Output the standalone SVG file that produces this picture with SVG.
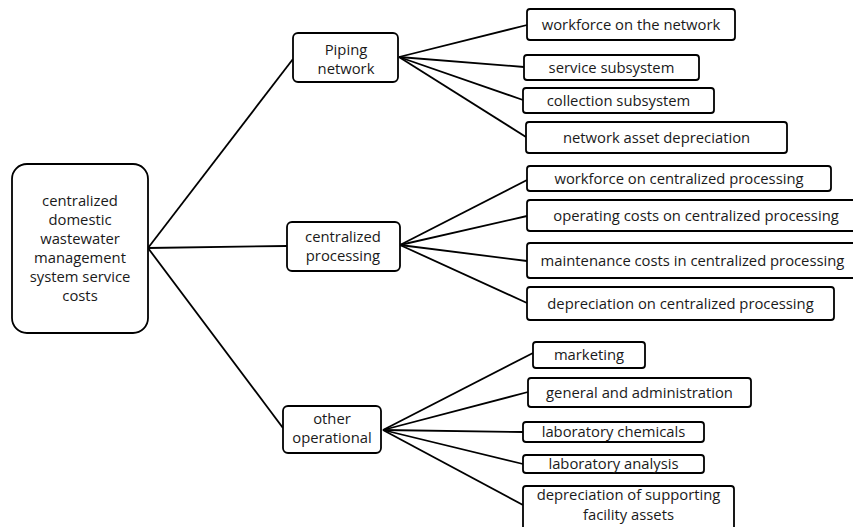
<svg xmlns="http://www.w3.org/2000/svg" width="853" height="527" viewBox="0 0 853 527">
<style>
.box{fill:#fff;stroke:#000;stroke-width:1.8}
.ln{stroke:#000;stroke-width:1.8;fill:none}
text{font-family:"Open Sans","Liberation Sans",Arial,sans-serif;font-size:14.8px;fill:#1a1a1a;text-anchor:middle}
</style>
<rect width="853" height="527" fill="#fff"/>
<g id="connectors">
<line class="ln" x1="148" y1="248" x2="293" y2="59"/>
<line class="ln" x1="148" y1="248" x2="287" y2="246"/>
<line class="ln" x1="148" y1="248" x2="283" y2="428"/>
<line class="ln" x1="399" y1="57" x2="527" y2="25"/>
<line class="ln" x1="399" y1="57" x2="524" y2="67"/>
<line class="ln" x1="399" y1="57" x2="523" y2="100"/>
<line class="ln" x1="399" y1="57" x2="526" y2="137"/>
<line class="ln" x1="400" y1="245" x2="527" y2="180"/>
<line class="ln" x1="400" y1="245" x2="527" y2="216"/>
<line class="ln" x1="400" y1="245" x2="527" y2="261"/>
<line class="ln" x1="400" y1="245" x2="527" y2="303"/>
<line class="ln" x1="383" y1="430" x2="533" y2="353"/>
<line class="ln" x1="383" y1="430" x2="528" y2="392"/>
<line class="ln" x1="383" y1="430" x2="523" y2="432"/>
<line class="ln" x1="383" y1="430" x2="523" y2="464"/>
<line class="ln" x1="383" y1="430" x2="523" y2="505"/>
</g>
<g id="root">
<rect class="box" x="12" y="164" width="136" height="169" rx="15"/>
<text x="80" y="206">centralized</text>
<text x="80" y="225">domestic</text>
<text x="80" y="244">wastewater</text>
<text x="80" y="263">management</text>
<text x="80" y="282">system service</text>
<text x="80" y="301">costs</text>
</g>
<g id="piping">
<rect class="box" x="293" y="33" width="105" height="49" rx="5"/>
<text x="346" y="55">Piping</text>
<text x="346" y="74">network</text>
</g>
<g id="processing">
<rect class="box" x="287" y="222" width="113" height="49" rx="5"/>
<text x="343" y="242">centralized</text>
<text x="343" y="261">processing</text>
</g>
<g id="other">
<rect class="box" x="283" y="406" width="98" height="47" rx="5"/>
<text x="332" y="424">other</text>
<text x="332" y="443">operational</text>
</g>
<g id="workforce-network">
<rect class="box" x="527" y="9" width="208" height="31" rx="3"/>
<text x="631" y="30">workforce on the network</text>
</g>
<g id="service-subsystem">
<rect class="box" x="524" y="55" width="175" height="25" rx="3"/>
<text x="611.5" y="73">service subsystem</text>
</g>
<g id="collection-subsystem">
<rect class="box" x="523" y="88" width="191" height="25" rx="3"/>
<text x="618.5" y="106">collection subsystem</text>
</g>
<g id="network-depreciation">
<rect class="box" x="526" y="122" width="261" height="31" rx="3"/>
<text x="656.5" y="143">network asset depreciation</text>
</g>
<g id="workforce-processing">
<rect class="box" x="527" y="166" width="304" height="25" rx="3"/>
<text x="679" y="184">workforce on centralized processing</text>
</g>
<g id="operating-costs">
<rect class="box" x="527" y="200" width="338" height="31" rx="3"/>
<text x="696" y="221">operating costs on centralized processing</text>
</g>
<g id="maintenance-costs">
<rect class="box" x="527" y="243" width="331" height="35" rx="3"/>
<text x="692.5" y="266">maintenance costs in centralized processing</text>
</g>
<g id="depreciation-processing">
<rect class="box" x="527" y="287" width="307" height="33" rx="3"/>
<text x="680.5" y="309">depreciation on centralized processing</text>
</g>
<g id="marketing">
<rect class="box" x="533" y="342" width="112" height="26" rx="3"/>
<text x="589" y="360">marketing</text>
</g>
<g id="general-admin">
<rect class="box" x="528" y="378" width="223" height="29" rx="3"/>
<text x="639.5" y="398">general and administration</text>
</g>
<g id="lab-chemicals">
<rect class="box" x="523" y="422" width="181" height="20" rx="3"/>
<text x="613.5" y="437">laboratory chemicals</text>
</g>
<g id="lab-analysis">
<rect class="box" x="523" y="455" width="181" height="18" rx="3"/>
<text x="613.5" y="469">laboratory analysis</text>
</g>
<g id="supporting-depreciation">
<rect class="box" x="523" y="486" width="211" height="45" rx="3"/>
<text x="628.5" y="500">depreciation of supporting</text>
<text x="628.5" y="520">facility assets</text>
</g>
</svg>
